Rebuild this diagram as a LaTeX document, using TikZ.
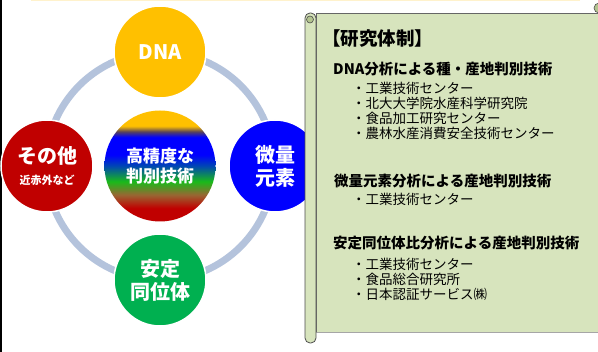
\documentclass[tikz,border=0pt]{standalone}
\usepackage{fontspec}
\setmainfont{Noto Sans CJK JP}
\usepackage{xcolor}

\definecolor{dnagold}{HTML}{FFC000}
\definecolor{otherred}{HTML}{C00000}
\definecolor{traceblue}{HTML}{0000FF}
\definecolor{isogreen}{HTML}{00B050}
\definecolor{ringblue}{HTML}{B4C3DC}
\definecolor{scrollfill}{HTML}{D7E4BD}
\definecolor{scrollcurl}{HTML}{B3C48F}
\definecolor{creambar}{HTML}{FFF2CC}

\pgfdeclareverticalshading{judge}{100bp}{color(0bp)=(otherred); color(31bp)=(otherred);
  color(37bp)=(brown!80!black); color(43bp)=(green!70!black!90!white); color(50bp)=(cyan!40!blue!70!black);
  color(55bp)=(traceblue); color(63bp)=(traceblue); color(65.5bp)=(blue!50!dnagold!70!black);
  color(68bp)=(dnagold); color(100bp)=(dnagold)}

\begin{document}
\begin{tikzpicture}
  [x=1pt,y=-1pt,
   every node/.style={font=\bfseries},
   topic/.style={circle,minimum size=92pt,inner sep=0pt,draw=white,line width=1.5pt,
     text=white,align=center,font=\fontsize{20}{23}\selectfont\bfseries},
   head/.style={anchor=west,inner sep=0pt,font=\fontsize{14.5}{16}\selectfont\bfseries},
   member/.style={anchor=west,inner sep=0pt,font=\fontsize{13.5}{15}\selectfont}]
  \useasboundingbox (0,0) rectangle (598,352);
  \fill[black] (0,0) rectangle (2,352);
  \fill[creambar] (31,0) rectangle (580,1.5);

  % ring
  \coordinate (o) at (160,166);
  \draw[ringblue,line width=7pt] (o) circle (114);

  \node[topic,fill=dnagold] (dna) at (160,52) {DNA};
  \node[topic,fill=traceblue] (trace) at (275,166) {微量\\元素};
  \node[topic,fill=isogreen] (iso) at (160,280) {安定\\同位体};
  \node[topic,fill=otherred] (other) at (47,166)
    {その他\\[-2pt]{\fontsize{11}{12}\selectfont 近赤外など}};
  \node[circle,minimum size=111pt,inner sep=0pt,shading=judge,text=white,align=center,
    font=\fontsize{17}{20}\selectfont\bfseries] (judge) at (o) {高精度な\\判別技術};

  % scroll
  \fill[scrollfill,draw=gray!80!black,line width=0.6pt] (316,13) -- (600,13) -- (600,332) -- (316,332) -- cycle;
  \draw[gray!70,line width=1.5pt] (316,332.5) -- (600,332.5);
  \fill[scrollfill,draw=gray!60!black,line width=0.8pt,rounded corners=5pt] (305,13) rectangle (316,343);
  \fill[scrollcurl,draw=gray!60!black,line width=0.6pt] (310,19.5) circle (3.5);
  \fill[scrollcurl,draw=gray!60!black,line width=0.6pt] (599,8) circle (5);

  \node[anchor=west,inner sep=0pt,font=\fontsize{18.5}{20}\selectfont\bfseries] (team) at (322,39) {【研究体制】};

  \node[head] (hdna) at (333,69) {DNA分析による種・産地判別技術};
  \foreach \name [count=\i] in {工業技術センター,北大大学院水産科学研究院,食品加工研究センター,農林水産消費安全技術センター}
    \node[member] (mdna\i) at (352,73+15*\i) {・\name};

  \node[head] (htrace) at (334,181) {微量元素分析による産地判別技術};
  \node[member] (mtrace1) at (352,199) {・工業技術センター};

  \node[head] (hiso) at (333,243) {安定同位体比分析による産地判別技術};
  \foreach \name [count=\i] in {工業技術センター,食品総合研究所,日本認証サービス㈱}
    \node[member] (miso\i) at (352,249+15*\i) {・\name};

\end{tikzpicture}
\end{document}
